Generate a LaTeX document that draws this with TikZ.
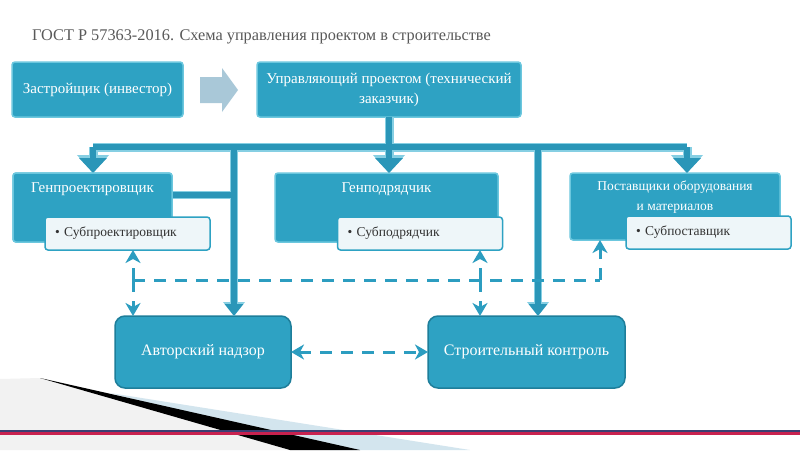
\documentclass[tikz,border=0pt]{standalone}
\usepackage{fontspec}
\setmainfont{Liberation Serif}
\usetikzlibrary{arrows.meta}
\definecolor{mainc}{HTML}{2EA2C3}
\definecolor{mainlight}{HTML}{6CC7DE}
\definecolor{barc}{HTML}{2A96B8}
\definecolor{barlight}{HTML}{86CFE3}
\definecolor{subfill}{HTML}{EEF6F9}
\definecolor{arrowgray}{HTML}{A9C8D8}
\definecolor{darkborder}{HTML}{1E7E9A}
\definecolor{dashc}{HTML}{2C9DC0}
\definecolor{navy}{HTML}{3B3F73}
\definecolor{redline}{HTML}{C8224F}
\definecolor{pale}{HTML}{D3E5EE}
\tikzset{
  box/.style={draw=mainlight, line width=1.5pt, fill=mainc, rounded corners=3pt, inner sep=0pt, outer sep=0pt, text=white, font=\fontsize{15}{20}\selectfont, align=center},
  subbox/.style={draw=mainc, line width=1.5pt, fill=subfill, rounded corners=3pt, inner sep=0pt, outer sep=0pt, text=black!80, font=\fontsize{13.5}{16}\selectfont},
  lowbox/.style={draw=darkborder, line width=1.5pt, fill=mainc, rounded corners=10pt, inner sep=0pt, outer sep=0pt, text=white, font=\fontsize{16}{19}\selectfont},
  lbl/.style={text=white, align=center, inner sep=0pt},
  barout/.style={draw=barlight, line width=9pt, -{Triangle[width=31pt,length=18pt]}},
  barin/.style={draw=barc, line width=6.5pt, -{Triangle[width=27pt,length=15pt]}},
  barplain/.style={draw=barlight, line width=9pt},
  barplainin/.style={draw=barc, line width=6.5pt},
  thinout/.style={draw=barlight, line width=8pt, -{Triangle[width=21pt,length=14pt]}},
  thinin/.style={draw=barc, line width=5.5pt, -{Triangle[width=18pt,length=12pt]}},
  dline/.style={draw=dashc, line width=3pt, dash pattern=on 12pt off 9pt},
  darr/.style={dline, -{Stealth[length=13pt,width=15pt,inset=4pt]}},
  ddarr/.style={dline, {Stealth[length=13pt,width=15pt,inset=4pt]}-{Stealth[length=13pt,width=15pt,inset=4pt]}},
}
\begin{document}
\begin{tikzpicture}[x=1pt,y=-1pt]
\useasboundingbox (0,0) rectangle (800,450);
\fill[white] (0,0) rectangle (800,450);

% bottom decoration
\fill[gray!10] (0,379) -- (40,378) -- (290,450) -- (0,450) -- cycle;
\fill[pale] (110,393) -- (470,450) -- (330,450) -- cycle;
\fill[black] (40,378) -- (360,450) -- (290,450) -- cycle;
\fill[navy] (0,429.5) rectangle (800,432);
\fill[redline] (0,432) rectangle (800,434.5);

% title
\node[anchor=west, text=black!65, font=\fontsize{16.3}{19}\selectfont, inner sep=0pt] (title) at (32,37) {ГОСТ Р 57363-2016. Схема управления проектом в строительстве};

% top row
\node[box, minimum width=171pt, minimum height=55pt] (dev) at (97.5,89.5) {Застройщик (инвестор)};
\node[box, minimum width=264pt, minimum height=55pt] (mgr) at (389,89.5) {Управляющий проектом (технический\\заказчик)};
\fill[arrowgray] (200,77) -- (222,77) -- (222,68) -- (238,90) -- (222,112) -- (222,103) -- (200,103) -- cycle;

% second row
\node[box, minimum width=159pt, minimum height=69pt] (gp) at (92.5,207.5) {};
\node[box, minimum width=223pt, minimum height=69pt,
  label={[lbl, font=\fontsize{15}{18}\selectfont, anchor=north, yshift=-9pt]north:Генподрядчик}] (gc) at (386.5,207.5) {};
\node[box, minimum width=210pt, minimum height=67pt,
  label={[lbl, font=\fontsize{13.5}{20}\selectfont, anchor=north, yshift=-8pt]north:{Поставщики оборудования\\и материалов}}] (sup) at (675,206.5) {};

\node[subbox, minimum width=164pt, minimum height=33pt, text width=145pt, inner xsep=10pt, align=left] (gcsub) at (420,233.5) {• Субподрядчик};
\node[subbox, minimum width=163pt, minimum height=33pt, text width=145pt, inner xsep=10pt, align=left] (supsub) at (708.5,232.5) {• Субпоставщик};

% bottom row
\node[lowbox, minimum width=176pt, minimum height=72pt] (an) at (203,352) {Авторский надзор};
\node[lowbox, minimum width=197pt, minimum height=72pt] (sk) at (526.5,352) {Строительный контроль};

% junction coordinates
\coordinate (hb) at (389,147);
\coordinate (j1) at (234,147);
\coordinate (j2) at (538,147);
\coordinate (lft) at (93,147);
\coordinate (rgt) at (687,147);
\coordinate (gpc) at (172,195);

% outlines
\draw[barplain] (mgr.south) -- (hb);
\draw[barplain] (lft) -- (rgt);
\draw[barout] (lft) -- (lft |- gp.north);
\draw[barout] (rgt) -- (rgt |- sup.north);
\draw[barout] (hb) -- (hb |- gc.north);
\draw[thinout] (j1) -- (j1 |- an.north);
\draw[thinout] (j2) -- (j2 |- sk.north);
\draw[draw=barlight, line width=8pt] (gpc) -- (j1 |- gpc);
% fills
\draw[barplainin] (mgr.south) -- (hb);
\draw[barplainin] (lft) -- (rgt);
\draw[barin] (lft) -- (lft |- gp.north);
\draw[barin] (rgt) -- (rgt |- sup.north);
\draw[barin] (hb) -- (hb |- gc.north);
\draw[thinin] (j1) -- (j1 |- an.north);
\draw[thinin] (j2) -- (j2 |- sk.north);
\draw[draw=barc, line width=5.5pt] (gpc) -- (j1 |- gpc);

% boxes drawn over connector ends
\node[box, minimum width=159pt, minimum height=69pt] at (gp) {};
\node[lbl, font=\fontsize{15}{18}\selectfont, anchor=north] (gptext) at ([yshift=-9pt]gp.north) {Генпроектировщик};
\node[subbox, minimum width=165pt, minimum height=33pt, text width=145pt, inner xsep=10pt, align=left] (gpsub) at (127.5,233.5) {• Субпроектировщик};

% dashed links
\coordinate (d1) at (133,280);
\coordinate (d2) at (480,280);
\coordinate (d3) at (600,280);
\draw[dline] (d1) -- (d3);
\draw[darr] (d1) -- (d1 |- gpsub.south);
\draw[darr] (d1) -- (d1 |- an.north);
\draw[darr] (d2) -- (d2 |- gcsub.south);
\draw[darr] (d2) -- (d2 |- sk.north);
\draw[darr] (d3) -- (d3 |- sup.south);
\draw[ddarr] (an.east) -- (sk.west);
\end{tikzpicture}
\end{document}
